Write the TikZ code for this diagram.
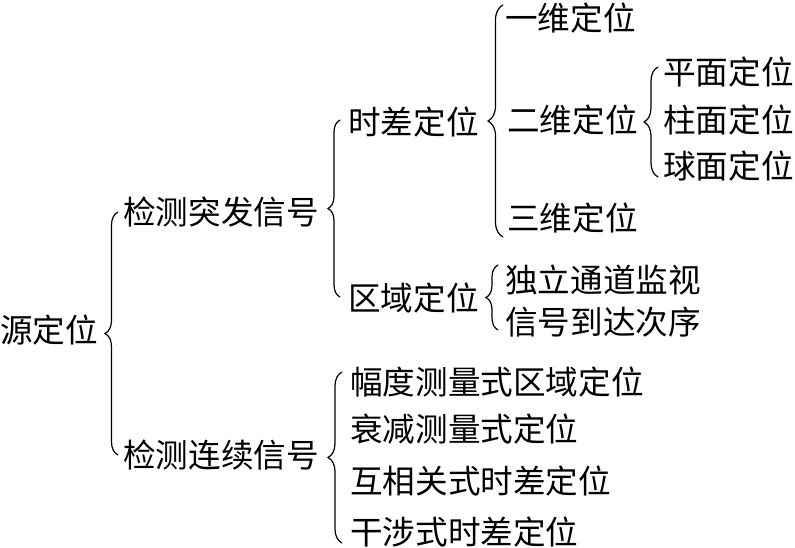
\documentclass[tikz,border=0pt]{standalone}
\usepackage{fontspec}
\newfontfamily\cjk{Noto Sans CJK SC}
\usetikzlibrary{decorations.pathreplacing}
\begin{document}
\begin{tikzpicture}[x=1pt,y=-1pt,
  lbl/.style={anchor=west,inner sep=0pt,font=\cjk\fontsize{32.6}{32.6}\selectfont,text height=27pt,text depth=2.3pt},
  brc/.style={decorate,decoration={brace,amplitude=#1},line width=1.2pt,line cap=round}]
\useasboundingbox (0,0) rectangle (795,547);
% nodes
\node[lbl] (src) at (0,330) {源定位};
\node[lbl] (a1) at (123,212) {检测突发信号};
\node[lbl] (a2) at (123,455) {检测连续信号};
\node[lbl] (b1) at (348,122) {时差定位};
\node[lbl] (b2) at (348,298) {区域定位};
\node[lbl] (c1) at (505,18) {一维定位};
\node[lbl] (c2) at (507,120) {二维定位};
\node[lbl] (c3) at (507,218) {三维定位};
\node[lbl] (d1) at (663,72) {平面定位};
\node[lbl] (d2) at (663,120) {柱面定位};
\node[lbl] (d3) at (663,166) {球面定位};
\node[lbl] (e1) at (505,280) {独立通道监视};
\node[lbl] (e2) at (505,322) {信号到达次序};
\node[lbl] (f1) at (350,382) {幅度测量式区域定位};
\node[lbl] (f2) at (350,429) {衰减测量式定位};
\node[lbl] (f3) at (350,481) {互相关式时差定位};
\node[lbl] (f4) at (350,532) {干涉式时差定位};
% brace end points
\coordinate (B1t) at (118,212); \coordinate (B1b) at (118,455);
\coordinate (B2t) at (340,120); \coordinate (B2b) at (340,297);
\coordinate (B3t) at (503,5);   \coordinate (B3b) at (503,237);
\coordinate (B4t) at (658,67);  \coordinate (B4b) at (658,177);
\coordinate (B5t) at (498,265); \coordinate (B5b) at (498,330);
\coordinate (B6t) at (342,372); \coordinate (B6b) at (342,543);
% braces
\draw[brc=13pt] (B1b) -- (B1t);
\draw[brc=12pt] (B2b) -- (B2t);
\draw[brc=15pt] (B3b) -- (B3t);
\draw[brc=14pt] (B4b) -- (B4t);
\draw[brc=12pt] (B5b) -- (B5t);
\draw[brc=14pt] (B6b) -- (B6t);
\end{tikzpicture}
\end{document}
